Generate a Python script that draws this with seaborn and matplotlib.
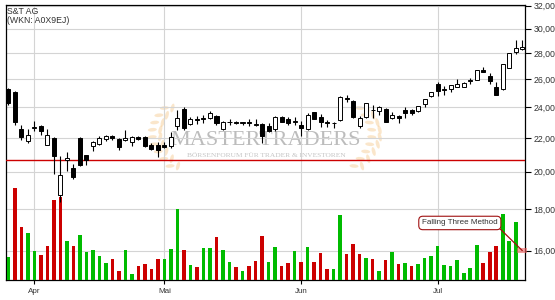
import numpy as np
import pandas as pd
import matplotlib
matplotlib.use("Agg")
import matplotlib.pyplot as plt
import seaborn as sns
from matplotlib.ticker import FixedLocator, NullLocator, FuncFormatter
from matplotlib.patches import Ellipse, Rectangle
from matplotlib.transforms import Affine2D

# ---------------- data ----------------
opens = [25.25, 25.10, 22.60, 21.82, 22.62, 22.75, 21.55, 21.98, 18.71, 20.66,
         20.21, 22.00, 20.97, 21.49, 21.65, 21.94, 22.10, 21.94, 21.87, 21.76,
         22.05, 22.05, 21.60, 21.60, 21.58, 21.50, 22.78, 23.89, 22.90, 23.25,
         23.30, 23.30, 23.45, 22.58, 23.00, 23.00, 22.98, 23.00, 22.85, 22.90,
         22.74, 22.55, 23.33, 23.20, 23.05, 22.86, 22.58, 23.67, 23.35, 23.00,
         22.96, 23.15, 24.65, 24.43, 22.78, 23.37, 23.85, 23.77, 23.90, 23.26,
         23.40, 23.85, 23.85, 23.73, 24.23, 24.80, 25.62, 25.20, 25.27, 25.45,
         25.45, 25.85, 25.97, 26.68, 26.23, 25.45, 25.26, 26.85, 28.05, 28.29]
highs = [25.35, 25.15, 22.80, 22.60, 23.10, 22.85, 22.55, 22.04, 20.89, 21.15,
         20.44, 22.05, 21.00, 21.80, 22.10, 22.20, 22.20, 22.00, 22.50, 22.10,
         22.15, 22.10, 21.70, 21.75, 21.75, 22.36, 23.80, 24.00, 23.35, 23.45,
         23.50, 23.75, 23.50, 23.10, 23.20, 23.10, 23.02, 23.20, 23.20, 22.95,
         22.94, 23.40, 23.40, 23.38, 23.38, 23.12, 23.60, 23.72, 23.56, 23.16,
         23.00, 24.80, 24.85, 24.50, 23.39, 24.30, 24.16, 24.10, 23.95, 23.67,
         23.49, 24.04, 23.90, 24.10, 24.60, 25.08, 25.81, 25.50, 25.58, 26.00,
         25.80, 26.10, 26.70, 26.87, 26.42, 25.77, 27.15, 28.00, 29.05, 29.05]
lows = [24.16, 22.80, 21.90, 21.72, 22.45, 22.20, 21.55, 19.89, 18.37, 20.06,
        19.57, 20.35, 20.40, 21.20, 21.60, 21.80, 21.90, 21.30, 21.80, 21.50,
        21.90, 21.45, 21.30, 20.83, 21.40, 21.40, 22.50, 22.50, 22.80, 22.90,
        22.98, 23.25, 22.85, 22.50, 22.85, 22.90, 22.80, 22.75, 22.75, 21.70,
        22.40, 22.45, 23.00, 22.85, 22.80, 22.10, 22.50, 23.20, 22.69, 22.73,
        22.62, 23.10, 24.34, 23.30, 22.64, 23.30, 23.26, 23.50, 23.00, 23.20,
        22.94, 23.30, 23.50, 23.70, 24.04, 24.68, 24.80, 24.87, 25.05, 25.45,
        25.40, 25.65, 25.95, 26.50, 25.65, 24.83, 25.20, 26.80, 27.90, 28.25]
closes = [24.33, 23.00, 22.05, 22.20, 22.70, 22.45, 22.17, 20.93, 19.80, 20.78,
          19.72, 20.40, 20.67, 21.77, 22.00, 22.15, 21.98, 21.46, 22.00, 22.05,
          21.95, 21.50, 21.36, 21.30, 21.45, 22.05, 23.30, 22.62, 23.20, 23.15,
          23.22, 23.64, 22.95, 23.00, 23.05, 22.95, 23.00, 22.95, 22.92, 22.10,
          22.46, 23.33, 23.04, 22.98, 23.12, 22.62, 23.49, 23.24, 23.04, 22.97,
          22.99, 24.73, 24.60, 23.35, 23.26, 24.28, 23.80, 24.04, 23.04, 23.49,
          23.32, 23.63, 23.60, 24.08, 24.57, 25.05, 25.14, 25.25, 25.56, 25.62,
          25.74, 25.93, 26.66, 26.50, 25.88, 24.83, 27.11, 27.97, 28.37, 28.50]
volume = [22.6, 92.3, 53.3, 47.3, 29.3, 25.3, 34.3, 80.3, 83.0, 39.3,
          34.3, 45.3, 28.3, 30.3, 23.7, 17.3, 21.3, 9.3, 30.3, 6.3,
          14.3, 16.3, 11.3, 21.3, 21.3, 31.3, 71.3, 30.3, 15.3, 13.3,
          32.3, 32.3, 43.3, 30.3, 18.3, 13.3, 9.3, 14.3, 19.3, 44.3,
          18.3, 33.3, 14.3, 17.3, 29.3, 18.3, 33.3, 18.3, 27.3, 11.3,
          11.3, 65.3, 26.3, 36.3, 26.3, 22.3, 21.3, 9.3, 20.3, 28.3,
          16.3, 17.3, 13.7, 16.3, 22.3, 24.3, 34.3, 15.3, 14.3, 20.3,
          7.3, 12.3, 34.7, 17.3, 28.3, 34.3, 66.3, 39.3, 58.3]
vol_dir = ["up", "down", "down", "up", "up", "down", "down", "down", "down", "up",
           "down", "up", "up", "up", "up", "up", "down", "down", "up", "up",
           "down", "down", "down", "down", "up", "up", "up", "down", "up", "down",
           "up", "up", "down", "up", "up", "down", "up", "down", "down", "down",
           "up", "up", "down", "down", "up", "down", "up", "down", "down", "down",
           "up", "up", "down", "down", "down", "up", "down", "up", "down", "up",
           "down", "up", "down", "up", "up", "up", "up", "up", "up", "up",
           "up", "up", "up", "down", "down", "down", "up", "up", "up"]
month_pos = [4, 24, 45, 66]
month_labels = ["Apr", "Mai", "Jun", "Jul"]
ytick_vals = [16, 18, 20, 22, 24, 26, 28, 30, 32]
support_level = 20.66
annot_text = "Falling Three Method"
annot_target = (79, 16.0)
annot_box = (69.4, 17.3)

RED = "#cc0000"
GREEN = "#00bb00"

sns.set_style("white")
plt.rcParams["font.family"] = ["Liberation Sans", "DejaVu Sans"]

W, H = 555, 300
fig = plt.figure(figsize=(W / 100, H / 100), dpi=100)
fig.patch.set_facecolor("white")
L, R, T, B = 5.7, 525.0, 5.0, 280.0
rect = [L / W, 1 - B / H, (R - L) / W, (B - T) / H]
XLIM = (-0.4, 79.42)
YLIM = (14.72, 32.07)

ax = fig.add_axes(rect)
ax_v = fig.add_axes(rect)
ax_c = fig.add_axes(rect, sharex=ax, sharey=ax)
ax.set_zorder(0)
ax_v.set_zorder(1)
ax_c.set_zorder(2)
ax_v.patch.set_visible(False)
ax_c.patch.set_visible(False)

# ---------------- background axes: scale, grid, ticks ----------------
ax.set_yscale("log")
ax.set_ylim(*YLIM)
ax.set_xlim(*XLIM)
ax.yaxis.tick_right()
ax.yaxis.set_major_locator(FixedLocator(ytick_vals))
ax.yaxis.set_minor_locator(NullLocator())
ax.yaxis.set_major_formatter(FuncFormatter(lambda v, p: f"{v:.2f}".replace(".", ",")))
ax.set_xticks(month_pos)
ax.set_xticklabels(month_labels)
ax.tick_params(axis="y", which="both", right=True, left=False, length=4, width=0.8,
               color="black", labelsize=6.3, labelcolor="#333333", pad=2)
ax.tick_params(axis="x", bottom=True, length=3, width=0.8, color="black",
               labelsize=5.8, labelcolor="#333333", pad=3)
ax.grid(True, color="#d4d4d4", lw=0.8)
ax.set_axisbelow(True)
for s in ax.spines.values():
    s.set_color("black")
    s.set_linewidth(0.9)

# watermark
ax.text(0.501, 0.507, "MASTERTRADERS", transform=ax.transAxes, ha="center", va="center",
        fontsize=16, family=["Liberation Serif", "DejaVu Serif"], color="#bcbcbc", zorder=0.2)
ax.text(0.501, 0.452, "BÖRSENFORUM FÜR TRADER & INVESTOREN", transform=ax.transAxes,
        ha="center", va="center", fontsize=5.3, family=["Liberation Serif", "DejaVu Serif"],
        color="#c4c4c4", zorder=0.2)
pix = Affine2D().scale(1, -1).translate(0, H)
for side in (-1, 1):
    cx = 266
    for k in range(9):
        t = k / 8.0
        px = cx + side * (92 + 18 * np.sin(np.pi * t * 0.9))
        py = 168 - 58 * t
        for off in (-1, 1):
            ang = side * 40 + off * 35
            e = Ellipse((px + off * side * 4, py - 2), 9, 3.6, angle=ang,
                        transform=pix, facecolor="#f7cf99", alpha=0.5, lw=0, zorder=0.15)
            ax.add_patch(e)

# ---------------- volume ----------------
vdf = pd.DataFrame({"day": np.arange(len(volume)), "volume": volume, "dir": vol_dir})
sns.barplot(data=vdf, x="day", y="volume", hue="dir", palette={"up": GREEN, "down": RED},
            dodge=False, width=0.55, saturation=1, legend=False, errorbar=None,
            native_scale=True, linewidth=0, ax=ax_v)
ax_v.set_xlim(*XLIM)
ax_v.set_ylim(0, 275)
ax_v.axis("off")

# ---------------- candles ----------------
x = np.arange(len(opens))
o = np.array(opens); c = np.array(closes)
ax_c.vlines(x, lows, highs, color="black", lw=0.8, zorder=1)
up = c >= o
ax_c.bar(x[up], c[up] - o[up], bottom=o[up], width=0.62, color="white",
         edgecolor="black", lw=0.7, zorder=2)
ax_c.bar(x[~up], o[~up] - c[~up], bottom=c[~up], width=0.62, color="black",
         edgecolor="black", lw=0.7, zorder=2)
ax_c.axhline(support_level, color=RED, lw=1.0, zorder=0.5)
ax_c.axis("off")

# annotation
ax_c.annotate(annot_text, xy=annot_target, xytext=annot_box, ha="center", va="center",
              fontsize=5.8, color="#333333",
              bbox=dict(boxstyle="round,pad=0.4,rounding_size=0.5", fc="white", ec="#a01010", lw=0.8),
              arrowprops=dict(arrowstyle="-", color="#a01010", lw=0.9, relpos=(1, 0),
                              shrinkA=0, shrinkB=0),
              annotation_clip=False, zorder=5)
ax_c.add_patch(Rectangle((annot_target[0] - 0.8, annot_target[1] * 0.994), 1.6,
                         annot_target[1] * 0.013, facecolor="#f06060", alpha=0.6, lw=0,
                         clip_on=False, zorder=4))

# title
fig.text(7.3 / W, 1 - 6.5 / H, "S&T AG", ha="left", va="top", fontsize=6.3, color="#333333")
fig.text(7.3 / W, 1 - 16.0 / H, "(WKN: A0X9EJ)", ha="left", va="top", fontsize=6.3, color="#333333")

ax_c.set_xlim(*XLIM)
ax.set_ylim(*YLIM)
fig.savefig("out.png", dpi=100)
